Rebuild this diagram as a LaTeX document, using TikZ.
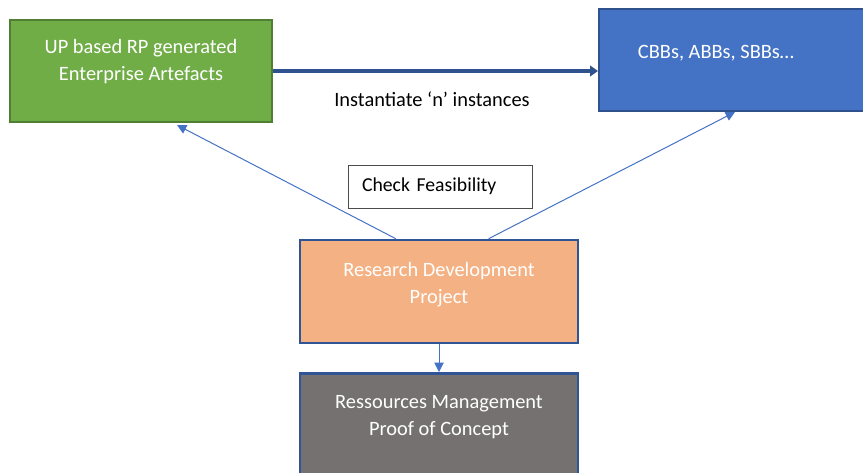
\documentclass[tikz,border=0pt]{standalone}
\usepackage{fontspec}
\setmainfont{Carlito}
\usetikzlibrary{calc,arrows.meta}
\definecolor{cgreen}{HTML}{70AD47}
\definecolor{cgreenb}{HTML}{507E32}
\definecolor{cblue}{HTML}{4472C4}
\definecolor{cblueb}{HTML}{2F528F}
\definecolor{corange}{HTML}{F4B183}
\definecolor{cdblue}{HTML}{2F5597}
\definecolor{cgray}{HTML}{767171}
\definecolor{cline}{HTML}{4472C4}
\tikzset{
  box/.style={draw, rectangle, line width=1.5pt, inner sep=0pt},
  thin/.style={draw=cline, line width=0.75pt, -{Triangle[length=7pt,width=7pt]}},
  thick/.style={draw=cblueb, line width=2.6pt, -{Triangle[length=6pt,width=8pt]}},
  lbl/.style={font=\fontsize{15.3}{20}\selectfont, text=black, align=center, inner sep=0pt},
  wlbl/.style={lbl, text=white}
}
\begin{document}
\begin{tikzpicture}[x=0.75pt,y=-0.75pt]
\useasboundingbox (0,0) rectangle (863,472);
\node[box, fill=cgreen, draw=cgreenb, minimum width=262*0.75pt, minimum height=102*0.75pt] (up) at (141,71) {};
\node[wlbl] (upt) at (141,61.5) {UP based RP generated\\Enterprise Artefacts};
\node[box, fill=cblue, draw=cblueb, minimum width=280*0.75pt, minimum height=102*0.75pt, anchor=north west] (cbb) at (598,8) {};
\node[wlbl] (cbbt) at (716,53) {CBBs, ABBs, SBBs…};
\node[box, fill=corange, draw=cdblue, line width=2pt, minimum width=278*0.75pt, minimum height=103*0.75pt] (rd) at (439,291.5) {};
\node[wlbl] (rdt) at (439,284.5) {Research Development\\Project};
\node[box, fill=cgray, draw=cdblue, line width=2pt, minimum width=278*0.75pt, minimum height=110*0.75pt, anchor=north] (rm) at (439,372) {};
\node[wlbl] (rmt) at (439,417) {Ressources Management\\Proof of Concept};
\node[lbl, draw=black!70, line width=0.75pt, minimum width=184*0.75pt, minimum height=43*0.75pt, text width=156*0.75pt, align=left, font=\fontsize{14.8}{20}\selectfont] (cf) at (440,186.5) {Check Feasibility};
\node[lbl] (inst) at (432,99) {Instantiate ‘n’ instances};
\draw[thick] (up.east) -- (cbb.west |- up.east);
\draw[thin] ($(rd.north west)+(97,0)$) -- ($(up.south west)+(168,2)$);
\draw[thin] ($(rd.north west)+(190,0)$) -- ($(cbb.south west)+(137,0)$);
\draw[thin] (rd.south) -- (rm.north);
\end{tikzpicture}
\end{document}
